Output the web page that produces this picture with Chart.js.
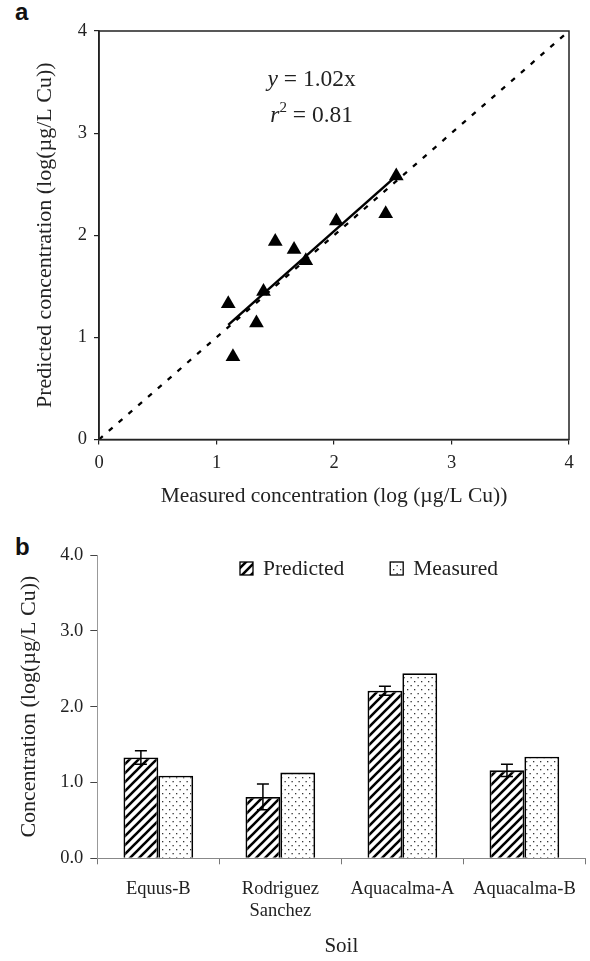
<!DOCTYPE html>
<html>
<head>
<meta charset="utf-8">
<script src="https://cdn.jsdelivr.net/npm/chart.js@4.4.1/dist/chart.umd.min.js"></script>
<style>
html, body { margin: 0; padding: 0; background: #fff; }
#wrap { position: relative; width: 590px; height: 961px; overflow: hidden; }
canvas { position: absolute; left: 0; }
#panelA { top: 0; }
#panelB { top: 520px; }
.tag { position: absolute; left: 15px; font: bold 24px "Liberation Sans", Arial, sans-serif; line-height: 24px; color: #111; }
</style>
</head>
<body>
<div id="wrap">
  <div class="tag" style="top:0px">a</div>
  <canvas id="panelA" width="590" height="520"></canvas>
  <div class="tag" style="top:535px">b</div>
  <canvas id="panelB" width="590" height="441"></canvas>
</div>
<script>
// panel a: measured vs predicted, log(µg/L Cu)
var measuredLog  = [1.10, 1.14, 1.34, 1.40, 1.50, 1.66, 1.76, 2.02, 2.44, 2.53];
var predictedLog = [1.33, 0.81, 1.14, 1.45, 1.94, 1.86, 1.75, 2.14, 2.21, 2.58];
var fitSlope = 1.02;
var fitR2 = 0.81;
var fitRange = [1.1, 2.5];
var oneToOne = [0, 4];
var ticksA = [0, 1, 2, 3, 4];

// panel b: per-soil concentrations
var soils = ['Equus-B', ['Rodriguez', 'Sanchez'], 'Aquacalma-A', 'Aquacalma-B'];
var predictedSoil = [1.33, 0.81, 2.21, 1.16];
var predictedErr  = [0.09, 0.17, 0.06, 0.08];
var measuredSoil  = [1.09, 1.13, 2.44, 1.34];
var ticksB = [0, 1, 2, 3, 4];

var SERIF = '"Liberation Serif", "Times New Roman", serif';
var INK = '#222';

function serif(size) { return { family: SERIF, size: size }; }

// fill patterns for the bars
function hatchPattern() {
    var c = document.createElement('canvas');
    c.width = 9; c.height = 9;
    var g = c.getContext('2d');
    g.fillStyle = '#fff';
    g.fillRect(0, 0, 9, 9);
    g.strokeStyle = '#000';
    g.lineWidth = 2.6;
    g.beginPath();
    g.moveTo(-1, 10); g.lineTo(10, -1);
    g.moveTo(-2, 2); g.lineTo(2, -2);
    g.moveTo(7, 11); g.lineTo(11, 7);
    g.stroke();
    return g.createPattern(c, 'repeat');
}

function dotPattern() {
    var c = document.createElement('canvas');
    c.width = 7; c.height = 8;
    var g = c.getContext('2d');
    g.fillStyle = '#fff';
    g.fillRect(0, 0, 7, 8);
    g.fillStyle = '#333';
    g.fillRect(1, 1, 1.3, 1.3);
    g.fillRect(4.5, 5, 1.3, 1.3);
    return g.createPattern(c, 'repeat');
}

// closed frame round the scatter plot
var frameBox = {
    id: 'frameBox',
    afterDraw: function(chart) {
        var a = chart.chartArea, ctx = chart.ctx;
        ctx.save();
        ctx.strokeStyle = INK;
        ctx.lineWidth = 1.5;
        ctx.strokeRect(a.left, a.top, a.right - a.left, a.bottom - a.top);
        ctx.restore();
    }
};

// regression equation text
var eqnLabel = {
    id: 'eqnLabel',
    afterDraw: function(chart) {
        var ctx = chart.ctx;
        var cx = chart.scales.x.getPixelForValue(1.81);
        var y1 = chart.scales.y.getPixelForValue(3.52);
        var y2 = chart.scales.y.getPixelForValue(3.17);
        var reg = '23.5px ' + SERIF, ita = 'italic 23.5px ' + SERIF, sup = '15px ' + SERIF;
        ctx.save();
        ctx.fillStyle = INK;
        ctx.textBaseline = 'middle';
        ctx.textAlign = 'left';

        var rest1 = ' = ' + fitSlope.toFixed(2) + 'x';
        ctx.font = ita; var w1a = ctx.measureText('y').width;
        ctx.font = reg; var w1b = ctx.measureText(rest1).width;
        var x = cx - (w1a + w1b) / 2;
        ctx.font = ita; ctx.fillText('y', x, y1);
        ctx.font = reg; ctx.fillText(rest1, x + w1a, y1);

        var rest2 = ' = ' + fitR2.toFixed(2);
        ctx.font = ita; var w2a = ctx.measureText('r').width;
        ctx.font = sup; var w2b = ctx.measureText('2').width;
        ctx.font = reg; var w2c = ctx.measureText(rest2).width;
        x = cx - (w2a + w2b + w2c) / 2;
        ctx.font = ita; ctx.fillText('r', x, y2);
        ctx.font = sup; ctx.fillText('2', x + w2a, y2 - 8);
        ctx.font = reg; ctx.fillText(rest2, x + w2a + w2b, y2);
        ctx.restore();
    }
};

new Chart(document.getElementById('panelA'), {
    type: 'scatter',
    data: {
        datasets: [{
            label: 'Soils',
            data: measuredLog.map(function(x, i) { return { x: x, y: predictedLog[i] }; }),
            pointStyle: 'triangle',
            pointRadius: 8.5,
            backgroundColor: '#000',
            borderColor: '#000',
            borderWidth: 0
        }, {
            type: 'line',
            label: 'Fit',
            data: fitRange.map(function(x) { return { x: x, y: fitSlope * x }; }),
            borderColor: '#000',
            borderWidth: 2.5,
            pointRadius: 0
        }, {
            type: 'line',
            label: '1:1',
            data: oneToOne.map(function(v) { return { x: v, y: v }; }),
            borderColor: '#000',
            borderWidth: 2.3,
            borderDash: [5, 8],
            pointRadius: 0
        }]
    },
    options: {
        responsive: false,
        animation: false,
        events: [],
        layout: { padding: { top: 31, right: 21, left: 0, bottom: 0 } },
        plugins: { legend: { display: false }, tooltip: { enabled: false } },
        scales: {
            x: {
                type: 'linear', min: 0, max: 4,
                afterBuildTicks: function(s) { s.ticks = ticksA.map(function(v) { return { value: v }; }); },
                ticks: { font: serif(18.5), color: INK, padding: 8 },
                grid: { drawOnChartArea: false, tickLength: 5, color: INK, lineWidth: 1.2 },
                border: { color: INK, width: 1.5 },
                title: { display: true, text: 'Measured concentration (log (µg/L Cu))', font: serif(21.5), color: INK, padding: { top: 0, bottom: 11 } },
                afterFit: function(s) { s.height = 80.5; }
            },
            y: {
                type: 'linear', min: 0, max: 4,
                afterBuildTicks: function(s) { s.ticks = ticksA.map(function(v) { return { value: v }; }); },
                ticks: { font: serif(18.5), color: INK, padding: 7 },
                grid: { drawOnChartArea: false, tickLength: 5, color: INK, lineWidth: 1.2 },
                border: { color: INK, width: 1.5 },
                title: { display: true, text: 'Predicted concentration (log(µg/L Cu))', font: serif(22), color: INK, padding: { top: 32, bottom: 0 } },
                afterFit: function(s) { s.width = 99; }
            }
        }
    },
    plugins: [frameBox, eqnLabel]
});

// error bars on the predicted series
var errorBars = {
    id: 'errorBars',
    afterDatasetsDraw: function(chart) {
        var ctx = chart.ctx, ys = chart.scales.y;
        var ds = chart.data.datasets[0];
        var meta = chart.getDatasetMeta(0);
        ctx.save();
        ctx.strokeStyle = '#000';
        ctx.lineWidth = 1.5;
        meta.data.forEach(function(bar, i) {
            var v = ds.data[i], e = ds.errors[i];
            var top = ys.getPixelForValue(v + e), bot = ys.getPixelForValue(v - e);
            ctx.beginPath();
            ctx.moveTo(bar.x, top); ctx.lineTo(bar.x, bot);
            ctx.moveTo(bar.x - 6, top); ctx.lineTo(bar.x + 6, top);
            ctx.moveTo(bar.x - 6, bot); ctx.lineTo(bar.x + 6, bot);
            ctx.stroke();
        });
        ctx.restore();
    }
};

// legend drawn inside the plot, near its top
var innerLegend = {
    id: 'innerLegend',
    afterDraw: function(chart) {
        var ctx = chart.ctx;
        var x = 240, cy = 48.5, box = 13;
        ctx.save();
        ctx.font = '21.5px ' + SERIF;
        ctx.textBaseline = 'middle';
        chart.data.datasets.forEach(function(ds) {
            ctx.fillStyle = ds.backgroundColor;
            ctx.fillRect(x, cy - box / 2, box, box);
            ctx.strokeStyle = '#000';
            ctx.lineWidth = 1.3;
            ctx.strokeRect(x, cy - box / 2, box, box);
            ctx.fillStyle = INK;
            ctx.fillText(ds.label, x + box + 10, cy + 1);
            x += box + 10 + ctx.measureText(ds.label).width + 46;
        });
        ctx.restore();
    }
};

new Chart(document.getElementById('panelB'), {
    type: 'bar',
    data: {
        labels: soils,
        datasets: [{
            label: 'Predicted',
            data: predictedSoil,
            errors: predictedErr,
            backgroundColor: hatchPattern(),
            borderColor: '#000',
            borderWidth: 1.8
        }, {
            label: 'Measured',
            data: measuredSoil,
            backgroundColor: dotPattern(),
            borderColor: '#000',
            borderWidth: 1.8
        }]
    },
    options: {
        responsive: false,
        animation: false,
        events: [],
        layout: { padding: { top: 35, right: 2, left: 0, bottom: 0 } },
        datasets: { bar: { categoryPercentage: 0.571, barPercentage: 1 } },
        plugins: { legend: { display: false }, tooltip: { enabled: false } },
        scales: {
            x: {
                ticks: { font: serif(18.5), color: INK, padding: 14, maxRotation: 0, autoSkip: false },
                grid: { offset: true, drawOnChartArea: false, tickLength: 6, color: '#777' },
                border: { color: '#888', width: 1 },
                title: { display: true, text: 'Soil', font: serif(21), color: INK, padding: { top: 0, bottom: 2 } },
                afterFit: function(s) { s.height = 102.7; }
            },
            y: {
                min: 0, max: 4,
                afterBuildTicks: function(s) { s.ticks = ticksB.map(function(v) { return { value: v }; }); },
                ticks: { font: serif(18.5), color: INK, padding: 7, callback: function(v) { return v.toFixed(1); } },
                grid: { drawOnChartArea: false, tickLength: 7, color: '#444' },
                border: { color: '#999', width: 1 },
                title: { display: true, text: 'Concentration (log(µg/L Cu))', font: serif(22), color: INK, padding: { top: 16, bottom: 0 } },
                afterFit: function(s) { s.width = 97.3; }
            }
        }
    },
    plugins: [errorBars, innerLegend]
});
</script>
</body>
</html>
